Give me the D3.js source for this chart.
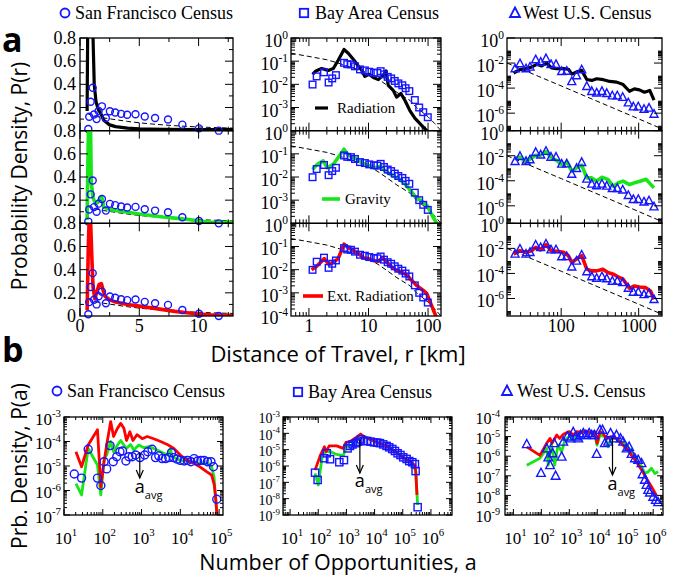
<!DOCTYPE html>
<html><head><meta charset="utf-8">
<script src="https://cdn.jsdelivr.net/npm/d3@7"></script>
<style>body{margin:0;background:#fff}</style>
</head><body><script>
// ---------------- DATA (panel a: distance distributions) ----------------
const sfCensus = [[0.70,0.015],[0.78,0.12],[0.9,0.25],[1.07,0.37],[1.18,0.14],[1.4,0.10],[1.57,0.17],[1.85,0.21],[2.18,0.11],[2.52,0.168],[2.97,0.157],[3.47,0.145],[3.98,0.137],[4.68,0.142],[5.46,0.122],[6.33,0.11],[7.42,0.096],[8.63,0.052],[10.03,0.02],[11.7,0.0]];
const sfRadiation = [[0.6,0.17],[0.65,0.9],[0.75,3],[1.0,3],[1.1,0.8],[1.2,0.4],[1.35,0.25],[1.55,0.18],[1.75,0.15],[2.0,0.09],[2.5,0.05],[3,0.035],[4,0.022],[5,0.016],[7,0.012],[10,0.01],[12.9,0.01]];
const sfGravity = [[0.6,0.03],[0.72,0.9],[0.88,0.9],[0.95,0.35],[1.1,0.22],[1.3,0.17],[1.5,0.18],[1.7,0.22],[1.85,0.22],[2.0,0.14],[2.5,0.12],[3,0.11],[4,0.095],[5,0.08],[6,0.068],[7,0.055],[8,0.045],[9,0.035],[10,0.02],[11,0.012],[12.9,0.008]];
const sfExtRad = [[0.6,0.05],[0.7,0.6],[0.78,0.85],[0.9,0.8],[1.0,0.5],[1.1,0.25],[1.25,0.15],[1.4,0.2],[1.6,0.27],[1.8,0.28],[1.95,0.22],[2.1,0.17],[2.5,0.14],[3,0.12],[4,0.1],[5,0.085],[6,0.07],[7,0.055],[8,0.04],[9,0.028],[10,0.017],[11,0.01],[12.9,0.004]];
const sfFit = [[0.6,0.15],[1,0.13],[2,0.11],[3,0.095],[4,0.08],[5,0.068],[6,0.058],[7,0.05],[8,0.043],[9,0.037],[10,0.032],[11,0.028],[12.9,0.022]];

const bayCensus = [[1.15,9.8e-3],[1.35,2.2e-2],[1.79,3.3e-2],[2.14,1.2e-2],[2.46,1.8e-2],[2.84,2.5e-2],[3.88,8.5e-2],[4.4,7.4e-2],[5.08,7.2e-2],[5.93,6.0e-2],[7.2,4.4e-2],[8.7,4.0e-2],[10.3,3.5e-2],[12.4,3.2e-2],[14.1,3.1e-2],[16,3.7e-2],[18.2,2.7e-2],[21,2.1e-2],[24,1.8e-2],[27.6,1.4e-2],[31.7,1.1e-2],[37,9.1e-3],[42,6.8e-3],[48.5,5.1e-3],[60,2.1e-3],[71,1.0e-3],[83,6.3e-4],[99,3.8e-4]];
const bayRadiation = [[1.15,0.027],[1.31,0.038],[1.63,0.048],[2.11,0.040],[2.57,0.048],[3.1,0.11],[3.88,0.32],[4.57,0.22],[5.55,0.12],[6.6,0.067],[7.7,0.040],[8.7,0.022],[10.3,0.027],[12.4,0.019],[14.6,0.016],[17.7,0.025],[19.7,0.038],[21.5,0.009],[26,0.0055],[29.6,0.0028],[35,0.004],[41,0.002],[49.5,7.4e-4],[60,3.5e-4],[78,1.7e-4],[95,1.0e-4],[110,6e-5]];
const bayGravity = [[1.15,0.021],[1.38,0.035],[1.74,0.05],[2.03,0.025],[2.56,0.035],[3.1,0.069],[3.88,0.158],[4.57,0.091],[5.55,0.069],[6.6,0.059],[7.7,0.04],[9.2,0.035],[11.3,0.028],[13.7,0.025],[16,0.030],[19,0.018],[26,0.011],[33.8,0.0079],[44,0.0041],[60,0.0015],[78,9.1e-4],[98,5.5e-4],[115,2.4e-4],[140,1.0e-4],[160,6e-5]];
const bayExtRad = [[1.11,0.010],[1.35,0.014],[1.81,0.030],[2.17,0.017],[2.56,0.021],[3.1,0.030],[3.88,0.126],[4.57,0.089],[5.55,0.069],[6.7,0.052],[8.2,0.032],[10,0.030],[12,0.025],[14.6,0.023],[17.3,0.032],[20.5,0.021],[24.5,0.013],[29.6,0.0095],[35.4,0.0081],[44,0.0058],[53,0.0035],[64,0.0021],[82,0.0013],[95,9.5e-4],[108,4.2e-4],[123,1.8e-4],[140,8e-5]];
const bayFit = [[0.5,0.22],[1,0.16],[2,0.115],[3,0.085],[5,0.055],[7,0.042],[10,0.03],[15,0.016],[20,0.0095],[30,0.0045],[50,0.002],[64,0.001],[100,4e-4],[130,2e-4],[165,1e-4]];

const westCensus = [[25.4,3.6e-3],[29.4,9.1e-3],[35.2,3.6e-3],[39.6,4.9e-3],[46.9,1.9e-2],[54.4,1.2e-2],[63.7,2.3e-2],[73.9,7.9e-3],[85.8,7.9e-3],[101.6,2.2e-3],[118,2.3e-3],[137,3.4e-4],[158,1.0e-3],[184,3.0e-3],[214,1.4e-4],[248,5.6e-5],[287,4.2e-5],[336,5.6e-5],[387,3.9e-5],[457,2.5e-5],[530,2.5e-5],[622,1.9e-5],[735,6.9e-6],[853,3.3e-6],[989,3.3e-6],[1172,2.1e-6],[1360,2.6e-6],[1577,8.5e-7]];
const westRadiation = [[24.3,1.6e-3],[29.4,3.0e-3],[35,3.6e-3],[41.7,4.9e-3],[48.6,7.9e-3],[56,5.9e-3],[65,1.0e-2],[75,4.1e-3],[87,3.6e-3],[107,3.6e-3],[124,3.2e-3],[137,1.3e-3],[158,1.9e-3],[184,2.6e-3],[214,4.9e-4],[248,4.1e-4],[287,5.6e-4],[350,4.7e-4],[425,3.4e-4],[520,3.0e-4],[630,1.9e-4],[760,5.6e-5],[880,8.7e-5],[1020,7.2e-5],[1190,4.7e-5],[1390,6.5e-5],[1577,1.1e-5]];
const westGravity = [[25.4,6.3e-3],[29.4,7.9e-3],[35,3.8e-3],[40.5,5.9e-3],[47,1.1e-2],[54,1.1e-2],[64,2.1e-2],[74,7.1e-3],[87,4.3e-3],[102,2.0e-3],[120,2.8e-3],[137,5.9e-4],[158,1.1e-3],[184,1.8e-3],[214,1.7e-4],[248,1.7e-4],[287,9.3e-5],[336,1.9e-4],[400,1.3e-4],[470,3.6e-5],[540,6.8e-5],[630,9.3e-5],[760,5.0e-5],[880,6.8e-5],[1040,9.3e-5],[1250,1.3e-4],[1577,2.7e-5]];
const westExtRad = [[24.3,3.5e-3],[29.4,6.6e-3],[35,4.9e-3],[41.7,6.6e-3],[47,1.2e-2],[54,7.6e-3],[64,2.0e-2],[74,6.6e-3],[87,5.9e-3],[107,4.9e-3],[124,2.6e-3],[137,7.6e-4],[158,1.4e-3],[184,2.6e-3],[214,2.2e-4],[248,1.6e-4],[287,1.6e-4],[345,2.2e-4],[400,1.2e-4],[470,8.7e-5],[540,5.4e-5],[630,3.5e-5],[760,6.5e-6],[880,1.0e-5],[1020,8.3e-6],[1220,7.4e-6],[1420,4.0e-6],[1577,8.5e-7]];
const westFit = [[20,1.0e-2],[100,1.5e-4],[1000,3.5e-7],[2000,5.5e-8]];

// ---------------- DATA (panel b: opportunities distributions) ----------------
const sfOppCensus = [[18.4,4.7e-6],[28.4,3.2e-6],[42,4.8e-5],[73,3.2e-6],[89,1.6e-6],[108,1.5e-5],[126,7.6e-6],[154,6.8e-5],[186,1.5e-5],[229,2.4e-5],[277,3.8e-5],[323,4.1e-5],[395,1.6e-5],[470,2.4e-5],[575,2.4e-5],[700,2.8e-5],[908,2.2e-5],[1200,2.8e-5],[1450,3.8e-5],[1870,4.8e-5],[2290,2.2e-5],[2780,2.6e-5],[3390,2.0e-5],[4130,2.0e-5],[5030,2.2e-5],[5890,3.5e-5],[6720,2.2e-5],[8260,1.9e-5],[10000,1.7e-5],[12600,1.6e-5],[15400,1.7e-5],[18700,1.5e-5],[22700,2.0e-5],[27700,1.6e-5],[33800,1.7e-5],[41200,1.7e-5],[50000,1.5e-5],[61500,1.5e-5],[71500,9.3e-6],[87000,4.4e-7]];
const sfOppExtRad = [[20.3,3.8e-5],[28.4,9.3e-6],[42,7.2e-5],[73,3.0e-4],[89,1.4e-6],[108,1.5e-5],[126,7.2e-5],[160,6.5e-4],[190,1.6e-4],[240,3.5e-4],[290,5.5e-4],[350,3.5e-4],[410,1.1e-4],[500,2.5e-4],[600,1.1e-4],[760,1.9e-4],[1040,1.3e-4],[1400,1.6e-4],[2060,1.3e-4],[3100,1.0e-4],[4600,7.6e-5],[6800,5.2e-5],[10000,2.8e-5],[14800,1.7e-5],[22000,1.3e-5],[32000,9.3e-6],[47500,5.9e-6],[64000,4.3e-6],[75000,1.7e-6],[82000,4.8e-7],[88000,1e-7]];
const sfOppGravity = [[20.3,1.9e-6],[28.4,6.6e-7],[42,5.2e-5],[73,1.1e-5],[89,6.6e-7],[108,2.0e-5],[126,2.8e-5],[160,1.0e-4],[190,3.8e-5],[240,7.2e-5],[290,1.1e-4],[350,7.2e-5],[410,5.2e-5],[520,7.6e-5],[630,4.5e-5],[850,7.2e-5],[1150,5.6e-5],[1540,6.2e-5],[2060,5.2e-5],[3100,3.8e-5],[4600,2.8e-5],[5600,5.2e-5],[6100,2.4e-5],[10000,1.7e-5],[18000,1.5e-5],[32000,1.3e-5],[52000,1.3e-5],[64000,9.3e-6],[74000,3.6e-6],[82000,3.5e-7],[88000,1e-7]];

const bayOppCensus = [[77,3.9e-7],[95,1.4e-7],[163,3.0e-6],[200,6.0e-6],[262,2.6e-6],[560,1.7e-6],[816,2.3e-6],[1100,1.2e-5],[1340,1.7e-5],[1660,2.1e-5],[2180,2.5e-5],[2630,3.1e-5],[3300,4.3e-5],[4200,3.4e-5],[5500,3.4e-5],[7200,3.1e-5],[9500,2.8e-5],[12400,2.7e-5],[15500,2.5e-5],[20300,2.1e-5],[26700,1.7e-5],[33000,1.4e-5],[42400,1.1e-5],[52700,8.3e-6],[65600,6.0e-6],[83000,4.7e-6],[104000,3.4e-6],[137000,2.7e-6],[170000,2.0e-6],[218000,1.7e-6],[270000,1.3e-6],[286000,4.9e-7],[338000,3.0e-9]];
const bayOppExtRad = [[77,5.6e-7],[120,4.7e-6],[165,1.5e-5],[190,7.6e-6],[245,1.7e-5],[450,1.7e-5],[770,1.2e-5],[960,2.8e-5],[1340,3.1e-5],[2450,6.3e-5],[3200,9.1e-5],[4200,6.3e-5],[5500,4.9e-5],[7800,3.9e-5],[11500,2.8e-5],[20300,2.1e-5],[35000,1.3e-5],[59000,6.9e-6],[104000,3.4e-6],[180000,1.9e-6],[270000,1.1e-6],[290000,4.5e-7],[320000,1.7e-8]];
const bayOppGravity = [[77,3.5e-7],[100,6.9e-8],[135,3.0e-6],[175,7.6e-6],[262,7.6e-6],[450,5.1e-6],[770,4.3e-6],[1000,1.5e-5],[1500,1.9e-5],[2450,3.9e-5],[4400,6.3e-5],[6600,4.9e-5],[11500,3.1e-5],[23000,1.7e-5],[40000,1.1e-5],[70000,5.1e-6],[120000,2.7e-6],[205000,1.4e-6],[286000,5.6e-7],[338000,4.1e-9]];

const westOppCensus = [[30,4.1e-6],[97,1.4e-7],[155,2.5e-6],[177,8.7e-7],[204,3.5e-7],[252,1.4e-6],[288,4.6e-6],[323,1.0e-7],[531,9.5e-7],[608,5.5e-6],[848,1.0e-5],[1100,8.1e-6],[1380,1.7e-5],[1730,1.0e-5],[2100,8.1e-6],[2530,1.2e-5],[3160,1.5e-5],[3900,1.2e-5],[5100,1.5e-5],[6300,1.2e-5],[7800,1.2e-5],[9500,1.3e-6],[12400,2.2e-5],[15400,2.2e-5],[18600,4.6e-6],[24400,5.5e-6],[29700,1.5e-5],[38900,8.1e-6],[48600,1.2e-5],[67500,8.1e-6],[84000,5.5e-6],[112000,2.5e-6],[138000,3.0e-6],[168000,1.3e-6],[221000,7.8e-7],[290000,6.5e-7],[383000,4.4e-7],[415000,1.2e-7],[500000,6.2e-8],[575000,3.4e-8],[660000,1.9e-8],[760000,1.4e-8],[1000000,8.5e-9],[1240000,5.9e-9],[1500000,4.5e-9]];
const westOppExtRad = [[30,3.0e-6],[89,1.1e-6],[155,4.6e-6],[204,8.1e-6],[240,4.6e-6],[355,1.2e-5],[450,8.1e-6],[608,1.3e-5],[1000,1.8e-5],[1380,1.2e-5],[1880,1.8e-5],[2600,1.7e-5],[4000,1.9e-5],[6300,1.5e-5],[8200,1.8e-5],[9800,4.6e-6],[12400,1.8e-5],[16000,1.5e-5],[21000,8.1e-6],[31000,1.0e-5],[48600,8.1e-6],[72000,4.6e-6],[95000,3.0e-6],[125000,2.1e-6],[168000,1.1e-6],[250000,5.2e-7],[383000,2.0e-7],[575000,7.4e-8],[870000,2.8e-8],[1300000,1.0e-8]];
const westOppGravity = [[30,3.5e-7],[89,7.8e-7],[155,2.5e-6],[177,3.5e-7],[228,4.6e-6],[300,3.5e-7],[390,3.7e-6],[531,1.7e-6],[700,6.8e-6],[1000,1.0e-5],[1500,8.1e-6],[2300,1.5e-5],[4000,1.8e-5],[6300,1.5e-5],[8200,1.1e-5],[9800,3.7e-6],[12400,1.2e-5],[18600,1.0e-5],[24400,3.0e-6],[31000,8.1e-6],[48600,8.1e-6],[72000,5.5e-6],[112000,3.7e-6],[168000,1.7e-6],[250000,6.5e-7],[383000,3.0e-7],[500000,1.3e-7],[660000,1.6e-7],[870000,2.4e-7],[1140000,1.3e-7],[1500000,1.6e-7]];

const avgOpportunities = [900, 3000, 35000];

// ---------------- TICKS ----------------
const xTicksA1 = [0,5,10], yTicksA1 = [0.2,0.4,0.6,0.8];
const xTicksA2 = [1,10,100], yTicksA2 = [1e-3,1e-2,1e-1,1];
const xTicksA3 = [100,1000], yTicksA3 = [1e-6,1e-4,1e-2,1];
const xTicksB = [10,100,1e3,1e4,1e5,1e6];
const yTicksB1 = [1e-7,1e-6,1e-5,1e-4,1e-3];
const yTicksB2 = [1e-9,1e-8,1e-7,1e-6,1e-5,1e-4,1e-3];
const yTicksB3 = [1e-9,1e-8,1e-7,1e-6,1e-5,1e-4];

// ---------------- RENDER ----------------
const W=675,H=581;
const BLUE='#1515ff', GREEN='#19e619', RED='#ff0000';
const SERIF='"Liberation Serif","DejaVu Serif","Times New Roman",serif';
const SANS='"Open Sans","DejaVu Sans",sans-serif';
const svg=d3.select('body').append('svg').attr('width',W).attr('height',H);
const defs=svg.append('defs');
let clipId=0;

function logMinor(dom, filt){
  const res=[]; const n0=Math.floor(Math.log10(dom[0])), n1=Math.ceil(Math.log10(dom[1]));
  for(let n=n0;n<=n1;n++){ if(filt && !filt(n)) continue;
    for(let k=2;k<=9;k++){ const v=k*Math.pow(10,n); if(v>dom[0]*1.0001 && v<dom[1]*0.9999) res.push(v);} }
  return res;
}
function drawTicks(g,xs,ys,xMaj,xMin,yMaj,yMin,LM,Lm){
  const [x0,x1]=xs.range(), [yb,yt]=ys.range();
  const seg=(a,b,c,d)=>g.append('line').attr('x1',a).attr('y1',b).attr('x2',c).attr('y2',d).attr('stroke','#000').attr('stroke-width',1);
  const inX=v=>{const p=xs(v);return p>=x0-0.5&&p<=x1+0.5;};
  const inY=v=>{const p=ys(v);return p<=yb+0.5&&p>=yt-0.5;};
  xMaj.filter(inX).forEach(v=>{const x=xs(v);seg(x,yb,x,yb-LM);seg(x,yt,x,yt+LM);});
  xMin.filter(inX).forEach(v=>{const x=xs(v);seg(x,yb,x,yb-Lm);seg(x,yt,x,yt+Lm);});
  yMaj.filter(inY).forEach(v=>{const y=ys(v);seg(x0,y,x0+LM,y);seg(x1,y,x1-LM,y);});
  yMin.filter(inY).forEach(v=>{const y=ys(v);seg(x0,y,x0+Lm,y);seg(x1,y,x1-Lm,y);});
}
function box(g,xs,ys){
  const [x0,x1]=xs.range(), [yb,yt]=ys.range();
  g.append('rect').attr('x',x0).attr('y',yt).attr('width',x1-x0).attr('height',yb-yt).attr('fill','none').attr('stroke','#000').attr('stroke-width',1.3);
}
function clipFor(xs,ys){
  const [x0,x1]=xs.range(), [yb,yt]=ys.range(); const id='c'+(clipId++);
  defs.append('clipPath').attr('id',id).append('rect').attr('x',x0).attr('y',yt).attr('width',x1-x0).attr('height',yb-yt);
  return 'url(#'+id+')';
}
function drawLine(g,xs,ys,data,color,w,dash){
  const ln=d3.line().x(d=>xs(d[0])).y(d=>ys(d[1]));
  g.append('path').attr('d',ln(data)).attr('fill','none').attr('stroke',color).attr('stroke-width',w)
    .attr('stroke-linejoin','round').attr('stroke-dasharray',dash||null).attr('clip-path',clipFor(xs,ys));
}
function shapeAt(sel,x,y,shape,s){
  if(shape==='circle') sel.append('circle').attr('cx',x).attr('cy',y).attr('r',s);
  else if(shape==='square') sel.append('rect').attr('x',x-s).attr('y',y-s).attr('width',2*s).attr('height',2*s);
  else sel.append('path').attr('d',`M${x},${y-s*1.1}L${x+s},${y+s*0.8}L${x-s},${y+s*0.8}Z`);
}
function drawMarkers(g,xs,ys,data,shape,s){
  const sel=g.append('g').attr('fill','none').attr('stroke',BLUE).attr('stroke-width',1.4);
  data.forEach(d=>shapeAt(sel,xs(d[0]),ys(d[1]),shape,s));
}
function marker(g,x,y,shape,s){
  const sel=g.append('g').attr('fill','none').attr('stroke',BLUE).attr('stroke-width',1.8);
  shapeAt(sel,x,y,shape,s);
}
function txt(g,x,y,s,size,anchor,font,weight){
  return g.append('text').attr('x',x).attr('y',y).attr('text-anchor',anchor||'start')
    .attr('font-family',font||SERIF).attr('font-size',size).attr('font-weight',weight||'normal').text(s);
}
function pow10(g,x,y,v,size,anchor){
  const e=Math.round(Math.log10(v));
  const t=g.append('text').attr('x',x).attr('y',y).attr('text-anchor',anchor).attr('font-family',SERIF).attr('font-size',size);
  t.append('tspan').text('10');
  t.append('tspan').attr('dy',-size*0.45).attr('font-size',size*0.64).text(String(e));
  return t;
}

const root=svg.append('g');

// ----- Panel a -----
const rowsA=[38,130.67,223.33,316];
const xA1=d3.scaleLinear().domain([0,12.9]).range([80,233]);
const xA2=d3.scaleLog().domain([0.5,165]).range([291,441]);
const xA3=d3.scaleLog().domain([20,2000]).range([507,662]);
const modelsA=[
  {sf:sfRadiation,bay:bayRadiation,west:westRadiation,color:'#000',w:3.2,label:'Radiation'},
  {sf:sfGravity,bay:bayGravity,west:westGravity,color:GREEN,w:3.6,label:'Gravity'},
  {sf:sfExtRad,bay:bayExtRad,west:westExtRad,color:RED,w:3.6,label:'Ext. Radiation'}
];
const legendPos=[{x1:315,x2:328,y:108,tx:337},{x1:322,x2:340,y:199,tx:345},{x1:303,x2:323,y:296,tx:327}];
modelsA.forEach((m,i)=>{
  const yt=rowsA[i], yb=rowsA[i+1];
  const g=root.append('g');
  // col 1
  const y1=d3.scaleLinear().domain([0,0.8]).range([yb,yt]);
  drawLine(g,xA1,y1,sfFit,'#000',1,'5,3');
  drawLine(g,xA1,y1,m.sf,m.color,m.w);
  drawMarkers(g,xA1,y1,sfCensus,'circle',3.5);
  box(g,xA1,y1);
  drawTicks(g,xA1,y1,xTicksA1,[2.5,7.5,12.5],yTicksA1,[0.1,0.3,0.5,0.7],8,4);
  yTicksA1.forEach(v=>txt(g,76,y1(v)+6,String(v),18,'end'));
  if(i===2) txt(g,76,y1(0)+6,'0',18,'end');
  // col 2
  const y2=d3.scaleLog().domain([1e-4,1]).range([yb,yt]);
  drawLine(g,xA2,y2,bayFit,'#000',1,'5,3');
  drawLine(g,xA2,y2,m.bay,m.color,m.w);
  drawMarkers(g,xA2,y2,bayCensus,'square',3.3);
  box(g,xA2,y2);
  drawTicks(g,xA2,y2,xTicksA2,logMinor(xA2.domain()),yTicksA2,logMinor(y2.domain()),8,4);
  yTicksA2.forEach(v=>pow10(g,288,y2(v)+9,v,18,'end'));
  if(i===2) pow10(g,288,y2(1e-4)+8,1e-4,18,'end');
  const lp=legendPos[i];
  g.append('line').attr('x1',lp.x1).attr('x2',lp.x2).attr('y1',lp.y).attr('y2',lp.y).attr('stroke',m.color).attr('stroke-width',m.w);
  txt(g,lp.tx,lp.y+5,m.label,15,'start');
  // col 3
  const y3=d3.scaleLog().domain([4e-8,1]).range([yb,yt]);
  drawLine(g,xA3,y3,westFit,'#000',1,'5,3');
  drawLine(g,xA3,y3,m.west,m.color,m.w);
  drawMarkers(g,xA3,y3,westCensus,'triangle',4);
  box(g,xA3,y3);
  drawTicks(g,xA3,y3,xTicksA3,logMinor(xA3.domain()),yTicksA3,logMinor(y3.domain(),n=>n%2===0),8,4);
  yTicksA3.forEach(v=>pow10(g,504,y3(v)+9,v,18,'end'));
});
// x tick labels panel a
xTicksA1.forEach(v=>txt(root,xA1(v),332,String(v),18,'middle'));
xTicksA2.forEach(v=>txt(root,xA2(v),332,String(v),18,'middle'));
xTicksA3.forEach(v=>txt(root,xA3(v),332,String(v),18,'middle'));
// legends top
marker(root,65,13,'circle',4.5); txt(root,75,19,'San Francisco Census',18,'start');
marker(root,304,13,'square',4.2); txt(root,315,19,'Bay Area Census',18,'start');
marker(root,515,13,'triangle',5); txt(root,523,19,'West U.S. Census',18,'start');
// titles
txt(root,338,362,'Distance of Travel, r [km]',22,'middle',SANS);
root.append('text').attr('transform','translate(27,176) rotate(-90)').attr('text-anchor','middle')
  .attr('font-family',SANS).attr('font-size',21).text('Probability Density, P(r)');
txt(root,2,52,'a',34,'start',SANS,'bold');
txt(root,2,362,'b',34,'start',SANS,'bold');

// ----- Panel b -----
const bPanels=[
  {x:d3.scaleLog().domain([10,1.26e5]).range([64,223]), y:d3.scaleLog().domain([1e-7,1e-3]).range([515,417]), yT:yTicksB1, yFs:17,
   census:sfOppCensus, shape:'circle', s:4, ext:sfOppExtRad, grav:sfOppGravity, avg:avgOpportunities[0], arr:[452,478], lab:493, ylabX:61},
  {x:d3.scaleLog().domain([5.6,5.6e6]).range([283,452]), y:d3.scaleLog().domain([1e-9,1e-3]).range([515,417]), yT:yTicksB2, yFs:14,
   census:bayOppCensus, shape:'square', s:3.6, ext:bayOppExtRad, grav:bayOppGravity, avg:avgOpportunities[1], arr:[440,473], lab:487, ylabX:280},
  {x:d3.scaleLog().domain([5,2.24e6]).range([505,663]), y:d3.scaleLog().domain([1e-9,1e-4]).range([515,417]), yT:yTicksB3, yFs:16,
   census:westOppCensus, shape:'triangle', s:4.3, ext:westOppExtRad, grav:westOppGravity, avg:avgOpportunities[2], arr:[438,475], lab:490, ylabX:500}
];
bPanels.forEach(p=>{
  const g=root.append('g');
  drawLine(g,p.x,p.y,p.grav,GREEN,2.8);
  drawLine(g,p.x,p.y,p.ext,RED,2.8);
  drawMarkers(g,p.x,p.y,p.census,p.shape,p.s);
  box(g,p.x,p.y);
  drawTicks(g,p.x,p.y,xTicksB,logMinor(p.x.domain()),p.yT,logMinor(p.y.domain()),6,3);
  xTicksB.filter(v=>v>=p.x.domain()[0]&&v<=p.x.domain()[1]*1.01).forEach(v=>pow10(g,p.x(v)+2,544,v,17,'middle'));
  p.yT.forEach(v=>pow10(g,p.ylabX,p.y(v)+p.yFs*0.45,v,p.yFs,'end'));
  // average arrow
  const ax=p.x(p.avg);
  g.append('line').attr('x1',ax).attr('x2',ax).attr('y1',p.arr[0]).attr('y2',p.arr[1]).attr('stroke','#000').attr('stroke-width',1.2);
  g.append('path').attr('d',`M${ax-3.5},${p.arr[1]-8}L${ax},${p.arr[1]}L${ax+3.5},${p.arr[1]-8}`).attr('fill','none').attr('stroke','#000').attr('stroke-width',1.2);
  const t=g.append('text').attr('x',ax-5).attr('y',p.lab).attr('font-family',SANS).attr('font-size',18);
  t.append('tspan').text('a');
  t.append('tspan').attr('dy',6).attr('font-size',11).text('avg');
});
marker(root,57,391,'circle',4.5); txt(root,67,397,'San Francisco Census',18,'start');
marker(root,298,392,'square',4.2); txt(root,308,398,'Bay Area Census',18,'start');
marker(root,507,391,'triangle',5); txt(root,517,397,'West U.S. Census',18,'start');
txt(root,338,570,'Number of Opportunities, a',21.5,'middle',SANS);
root.append('text').attr('transform','translate(27,466) rotate(-90)').attr('text-anchor','middle')
  .attr('font-family',SANS).attr('font-size',21).text('Prb. Density, P(a)');
</script></body></html>
